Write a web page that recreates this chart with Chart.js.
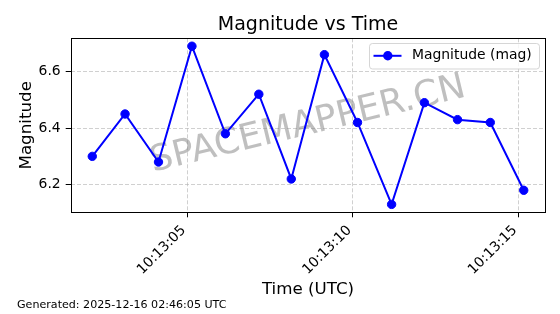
<!DOCTYPE html>
<html><head><meta charset="utf-8">
<script src="https://cdn.jsdelivr.net/npm/chart.js@4.4.1/dist/chart.umd.min.js"></script>
<style>html,body{margin:0;padding:0;background:#fff;}#wrap{width:560px;height:314px;}</style>
</head><body><div id="wrap"><canvas id="c" width="560" height="314"></canvas></div>
<script>
// ---- data ----
const timeLabels = ['10:13:02.13','10:13:03.12','10:13:04.13','10:13:05.14','10:13:06.15','10:13:07.16','10:13:08.14',
                    '10:13:09.14','10:13:10.14','10:13:11.17','10:13:12.16','10:13:13.16','10:13:14.15','10:13:15.16'];
const magnitudes = [6.30, 6.45, 6.28, 6.69, 6.38, 6.52, 6.22, 6.66, 6.42, 6.13, 6.49, 6.43, 6.42, 6.18];
const xTickLabels = ['10:13:05', '10:13:10', '10:13:15'];
const yTickValues = [6.2, 6.4, 6.6];
const seriesLabel = 'Magnitude (mag)';
const chartTitle = 'Magnitude vs Time';
const xAxisTitle = 'Time (UTC)';
const yAxisTitle = 'Magnitude';
const footnote = 'Generated: 2025-12-16 02:46:05 UTC';
const watermarkText = 'SPACEMAPPER.CN';

// ---- helpers ----
const BASE = '10:13:00';
function toSec(s){ const p = s.split(':').map(Number); return p[0]*3600 + p[1]*60 + p[2]; }
const base = toSec(BASE);
const points = timeLabels.map((t,i)=>({x: toSec(t)-base, y: magnitudes[i]}));
const xTickValues = xTickLabels.map(t => toSec(t)-base);
const xs = points.map(p=>p.x), ys = magnitudes;
const xMin = Math.min(...xs), xMax = Math.max(...xs), yMin = Math.min(...ys), yMax = Math.max(...ys);
const xPad = (xMax-xMin)*0.05, yPad = (yMax-yMin)*0.05;

const FONT = "'DejaVu Sans', sans-serif";
const BLUE = '#0000ff';

const decorPlugin = {
  id: 'decor',
  beforeDatasetsDraw(chart){
    const {ctx, chartArea:a} = chart;
    ctx.save();
    const cx = (a.left+a.right)/2, cy = (a.top+a.bottom)/2;
    ctx.translate(cx, cy);
    ctx.rotate(-13.5*Math.PI/180);
    ctx.font = "36px " + FONT;
    ctx.fillStyle = 'rgba(128,128,128,0.5)';
    ctx.textAlign = 'center';
    ctx.textBaseline = 'alphabetic';
    ctx.fillText(watermarkText, 0, 9);
    ctx.restore();
  },
  afterDatasetsDraw(chart){
    const {ctx, chartArea:a} = chart;
    ctx.save();
    // frame
    ctx.strokeStyle = '#000'; ctx.lineWidth = 1;
    ctx.strokeRect(Math.round(a.left)+0.5, Math.round(a.top)+0.5, Math.round(a.right)-Math.round(a.left), Math.round(a.bottom)-Math.round(a.top));
    // legend
    const ds = chart.data.datasets[0];
    const bx = 369.5, by = 43.5, bw = 170, bh = 25.5, r = 3;
    ctx.beginPath();
    ctx.moveTo(bx+r, by); ctx.lineTo(bx+bw-r, by); ctx.arcTo(bx+bw, by, bx+bw, by+r, r);
    ctx.lineTo(bx+bw, by+bh-r); ctx.arcTo(bx+bw, by+bh, bx+bw-r, by+bh, r);
    ctx.lineTo(bx+r, by+bh); ctx.arcTo(bx, by+bh, bx, by+bh-r, r);
    ctx.lineTo(bx, by+r); ctx.arcTo(bx, by, bx+r, by, r); ctx.closePath();
    ctx.fillStyle = 'rgba(255,255,255,0.8)'; ctx.fill();
    ctx.strokeStyle = 'rgba(204,204,204,0.8)'; ctx.lineWidth = 1; ctx.stroke();
    const ly = 55.8;
    ctx.strokeStyle = ds.borderColor; ctx.lineWidth = 2;
    ctx.beginPath(); ctx.moveTo(373.5, ly); ctx.lineTo(401.5, ly); ctx.stroke();
    ctx.fillStyle = ds.pointBackgroundColor;
    ctx.beginPath(); ctx.arc(387.8, ly, 4.7, 0, Math.PI*2); ctx.fill();
    ctx.fillStyle = '#000'; ctx.font = "13.9px " + FONT;
    ctx.textAlign = 'left'; ctx.textBaseline = 'middle';
    ctx.fillText(ds.label, 412, ly);
    ctx.restore();
  },
  afterDraw(chart){
    const {ctx} = chart;
    ctx.save();
    ctx.fillStyle = '#000'; ctx.font = "11.1px " + FONT;
    ctx.textAlign = 'left'; ctx.textBaseline = 'alphabetic';
    ctx.fillText(footnote, 17, 308);
    ctx.restore();
  }
};

new Chart(document.getElementById('c'), {
  type: 'line',
  data: { datasets: [{
    label: seriesLabel,
    data: points,
    borderColor: BLUE, backgroundColor: BLUE,
    pointBackgroundColor: BLUE, pointBorderColor: BLUE,
    borderWidth: 2, pointRadius: 4.2, pointBorderWidth: 1, pointHoverRadius: 4.2,
    tension: 0, fill: false
  }]},
  options: {
    responsive: false, animation: false, devicePixelRatio: 1,
    layout: { padding: { left: 0, right: 14.7, top: 0, bottom: 0 } },
    plugins: {
      legend: { display: false },
      tooltip: { enabled: false },
      title: { display: true, text: chartTitle, fullSize: false, color: '#000',
               font: { family: FONT, size: 19, weight: 'normal', lineHeight: 1.2 },
               padding: { top: 14, bottom: 1.5 } }
    },
    scales: {
      x: {
        type: 'linear', min: xMin - xPad, max: xMax + xPad,
        afterBuildTicks(s){ s.ticks = xTickValues.map(v=>({value:v})); },
        afterFit(s){ s.height = 101.7; },
        ticks: { autoSkip: false, minRotation: 45, maxRotation: 45, padding: 5, labelOffset: -3.5, color: '#000',
                 font: { family: FONT, size: 13.9 },
                 callback(v){ const i = xTickValues.indexOf(v); return i >= 0 ? xTickLabels[i] : ''; } },
        grid: { color: 'rgba(176,176,176,0.6)', lineWidth: 1, tickLength: 5, tickColor: '#000', tickWidth: 1, tickBorderDash: [] },
        border: { display: false, dash: [4, 2] },
        title: { display: true, text: xAxisTitle, color: '#000', font: { family: FONT, size: 16.7 }, padding: { top: 0, bottom: 14 } }
      },
      y: {
        type: 'linear', min: yMin - yPad, max: yMax + yPad,
        afterBuildTicks(s){ s.ticks = yTickValues.map(v=>({value:v})); },
        afterFit(s){ s.width = 70.7; },
        ticks: { padding: 5, color: '#000', font: { family: FONT, size: 13.9 },
                 callback(v){ return Number(v).toFixed(1); } },
        grid: { color: 'rgba(176,176,176,0.6)', lineWidth: 1, tickLength: 5, tickColor: '#000', tickWidth: 1, tickBorderDash: [] },
        border: { display: false, dash: [4, 2] },
        title: { display: true, text: yAxisTitle, color: '#000', font: { family: FONT, size: 16.7 }, padding: { top: 16.7, bottom: 0 } }
      }
    }
  },
  plugins: [decorPlugin]
});
</script></body></html>
